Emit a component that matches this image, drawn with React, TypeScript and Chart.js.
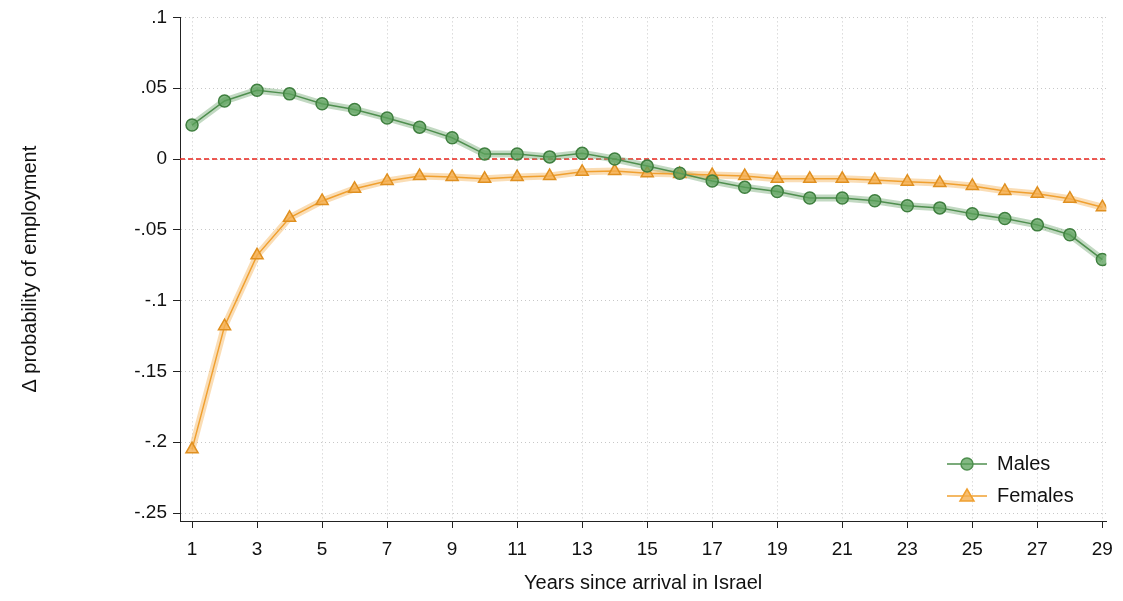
import { useEffect, useRef } from "react";
import { Chart, registerables } from "chart.js";

Chart.register(...registerables);

const years = Array.from({ length: 29 }, (_, i) => i + 1);
const males = [
  0.024, 0.041, 0.0486, 0.046, 0.039, 0.035, 0.029, 0.0225, 0.015, 0.0035,
  0.0035, 0.0015, 0.004, 0, -0.005, -0.01, -0.0155, -0.02, -0.023, -0.0275,
  -0.0275, -0.0295, -0.033, -0.0345, -0.0387, -0.042, -0.0465, -0.0535, -0.071,
];
const females = [
  -0.205, -0.118, -0.068, -0.0415, -0.0296, -0.021, -0.0155, -0.012, -0.0127,
  -0.014, -0.0127, -0.012, -0.009, -0.0085, -0.01, -0.0106, -0.0113, -0.012,
  -0.014, -0.014, -0.014, -0.0148, -0.016, -0.017, -0.019, -0.0225, -0.0246,
  -0.028, -0.034,
];
const xTicks = [1, 3, 5, 7, 9, 11, 13, 15, 17, 19, 21, 23, 25, 27, 29];
const yTicks = [0.1, 0.05, 0, -0.05, -0.1, -0.15, -0.2, -0.25];

const green = "#4f8f4f";
const greenFill = "rgba(90,160,90,0.75)";
const orange = "#f0a030";
const orangeFill = "rgba(245,175,80,0.8)";
const font = "'Liberation Sans', Arial, sans-serif";

const fmt = (v: number) => {
  if (Math.abs(v) < 1e-9) return "0";
  const s = String(Math.round(v * 100) / 100);
  return s.replace("0.", ".");
};

const extras = {
  id: "extras",
  beforeDatasetsDraw(chart: Chart) {
    const { ctx, chartArea, scales } = chart;
    const y0 = scales.y.getPixelForValue(0);
    ctx.save();
    ctx.strokeStyle = "#e8241c";
    ctx.lineWidth = 1.5;
    ctx.setLineDash([5, 3]);
    ctx.beginPath();
    ctx.moveTo(chartArea.left, y0);
    ctx.lineTo(chartArea.right, y0);
    ctx.stroke();
    ctx.restore();
  },
  afterDatasetsDraw(chart: Chart) {
    const { ctx } = chart;
    const items = [
      { label: "Males", color: green, fill: greenFill, shape: "circle", y: 464 },
      { label: "Females", color: orange, fill: orangeFill, shape: "triangle", y: 496 },
    ];
    ctx.save();
    items.forEach((it) => {
      ctx.strokeStyle = it.color;
      ctx.lineWidth = 1.5;
      ctx.beginPath();
      ctx.moveTo(947, it.y);
      ctx.lineTo(987, it.y);
      ctx.stroke();
      ctx.fillStyle = it.fill;
      ctx.beginPath();
      if (it.shape === "circle") {
        ctx.arc(967, it.y, 6, 0, Math.PI * 2);
      } else {
        ctx.moveTo(967, it.y - 7);
        ctx.lineTo(974, it.y + 5);
        ctx.lineTo(960, it.y + 5);
        ctx.closePath();
      }
      ctx.fill();
      ctx.stroke();
      ctx.fillStyle = "#111";
      ctx.font = `20px ${font}`;
      ctx.textBaseline = "middle";
      ctx.fillText(it.label, 997, it.y);
    });
    ctx.restore();
  },
};

export default function App() {
  const chartRef = useRef<HTMLCanvasElement | null>(null);

  useEffect(() => {
    const canvas = chartRef.current;
    if (!canvas) return;
    document.body.style.margin = "0";

    const chart = new Chart(canvas, {
      type: "line",
      data: {
        labels: years,
        datasets: [
          {
            data: males.map((v, i) => ({ x: years[i], y: v })),
            borderColor: "rgba(120,170,120,0.45)",
            borderWidth: 7,
            pointRadius: 0,
            order: 4,
          },
          {
            data: females.map((v, i) => ({ x: years[i], y: v })),
            borderColor: "rgba(245,180,90,0.45)",
            borderWidth: 7,
            pointRadius: 0,
            order: 3,
          },
          {
            data: females.map((v, i) => ({ x: years[i], y: v })),
            borderColor: orange,
            borderWidth: 1.5,
            pointStyle: "triangle",
            pointRadius: 7,
            pointBackgroundColor: orangeFill,
            pointBorderColor: "#e09020",
            order: 2,
          },
          {
            data: males.map((v, i) => ({ x: years[i], y: v })),
            borderColor: green,
            borderWidth: 1.5,
            pointStyle: "circle",
            pointRadius: 6,
            pointBackgroundColor: greenFill,
            pointBorderColor: "#3f7f3f",
            order: 1,
          },
        ],
      },
      options: {
        animation: false,
        responsive: false,
        layout: { padding: { top: 16, right: 16, bottom: 0, left: 0 } },
        plugins: { legend: { display: false }, tooltip: { enabled: false } },
        scales: {
          x: {
            type: "linear",
            min: 0.63,
            max: 29.12,
            afterBuildTicks: (s) => {
              s.ticks = xTicks.map((v) => ({ value: v }));
            },
            afterFit: (s) => {
              s.height = 80;
            },
            ticks: { font: { family: font, size: 19 }, color: "#111", maxRotation: 0, padding: 10 },
            grid: { color: "#c8c8c8", tickColor: "#222", tickLength: 7, lineWidth: 1 },
            border: { display: true, color: "#222", dash: [1, 3] },
            title: {
              display: true,
              text: "Years since arrival in Israel",
              font: { family: font, size: 20 },
              color: "#111",
              padding: { top: 4, bottom: 6 },
            },
          },
          y: {
            min: -0.2556,
            max: 0.1,
            afterBuildTicks: (s) => {
              s.ticks = yTicks.map((v) => ({ value: v }));
            },
            afterFit: (s) => {
              s.width = 180;
            },
            ticks: { font: { family: font, size: 19 }, color: "#111", callback: (v) => fmt(Number(v)), padding: 6 },
            grid: { color: "#c8c8c8", tickColor: "#222", tickLength: 7 },
            border: { display: true, color: "#222", dash: [1, 3] },
            title: {
              display: true,
              text: "Δ probability of employment",
              font: { family: font, size: 20 },
              color: "#111",
              padding: { top: 18, bottom: 80 },
            },
          },
        },
      },
      plugins: [extras],
    });

    return () => chart.destroy();
  }, []);

  return <canvas ref={chartRef} width={1123} height={601} style={{ display: "block" }} />;
}
